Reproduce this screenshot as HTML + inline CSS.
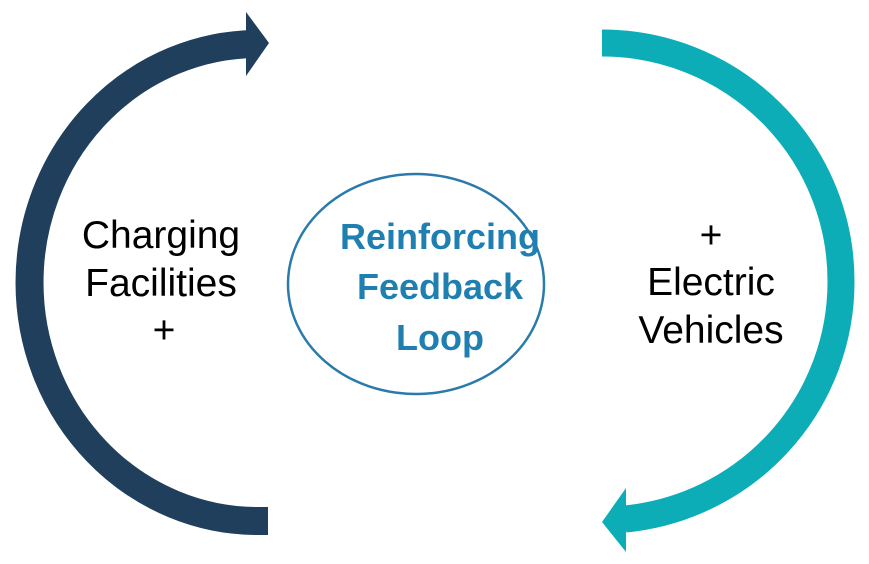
<!DOCTYPE html>
<html><head><style>
html,body{margin:0;padding:0;background:#fff;}
svg{display:block;}
</style></head><body>
<svg width="869" height="564" viewBox="0 0 869 564" xmlns="http://www.w3.org/2000/svg">
<path d="M268 521 L258 521 A228 238 0 0 1 258 44 L248 44" fill="none" stroke="#1f3f5c" stroke-width="28"/>
<polygon points="246,12 269,43 246,76" fill="#1f3f5c"/>
<path d="M602 43 A239 238 0 0 1 841 282 A239 238 0 0 1 625 519" fill="none" stroke="#0dadb8" stroke-width="27"/>
<polygon points="626,488 602,522 626,552" fill="#0dadb8"/>
<ellipse cx="416" cy="284" rx="128" ry="110" fill="none" stroke="#2a7bab" stroke-width="2.5"/>
<g font-family="Liberation Sans, sans-serif" font-weight="bold" font-size="36" fill="#1f7fb0" text-anchor="middle">
<text x="440" y="249">Reinforcing</text>
<text x="440" y="299">Feedback</text>
<text x="440" y="350">Loop</text>
</g>
<g font-family="Liberation Sans, sans-serif" font-size="39" fill="#000" text-anchor="middle">
<text x="161" y="248">Charging</text>
<text x="161" y="296">Facilities</text>
<text x="164" y="343">+</text>
<text x="711" y="248">+</text>
<text x="711" y="295">Electric</text>
<text x="711" y="343">Vehicles</text>
</g>
</svg>
</body></html>
